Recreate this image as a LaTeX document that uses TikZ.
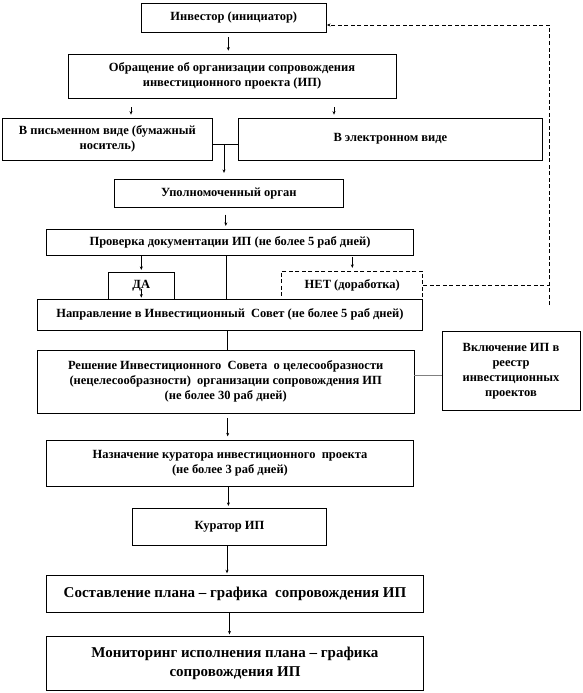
\documentclass[tikz,border=0pt]{standalone}
\usepackage{fontspec}
\setmainfont{Liberation Serif}
\usetikzlibrary{arrows.meta}
\usetikzlibrary{positioning}
\tikzset{>={Stealth[length=3.5pt,width=3pt]}}
\tikzstyle{box} = [draw=black, line width=0.8pt, align=center, inner sep=1pt, font=\fontsize{12.5}{15}\selectfont\bfseries]
\tikzstyle{bigbox} = [box, font=\fontsize{15}{19}\selectfont\bfseries]
\tikzstyle{rework} = [draw=black, line width=0.8pt, dash pattern=on 4pt off 2.5pt]

\begin{document}
\begin{tikzpicture}[x=1pt, y=-1pt, line width=0.8pt]
\useasboundingbox (0,0) rectangle (582,693);
\node [box, minimum width=185.5, minimum height=29] (inv) at (233.8, 17.8) {Инвестор (инициатор)};
\node [box, minimum width=328, minimum height=44.3] (obr) at (232, 76.2) {Обращение об организации сопровождения\\инвестиционного проекта (ИП)};
\node [box, minimum width=210.7, minimum height=41.7] (pis) at (107.4, 139.2) {В письменном виде (бумажный\\носитель)};
\node [box, minimum width=303.2, minimum height=41.7] (el) at (390.4, 139.2) {В электронном виде};
\node [box, minimum width=228.5, minimum height=28] (upo) at (228.8, 193.3) {Уполномоченный орган};
\node [box, minimum width=366.8, minimum height=26.4] (prov) at (230, 242.5) {Проверка документации ИП (не более 5 раб дней)};
\node [box, minimum width=66.6, minimum height=26.7] (da) at (141.3, 285.7) {ДА};
\node [box, rework, minimum width=141.1, minimum height=28] (net) at (352.3, 285) {НЕТ (доработка)};
\node [box, minimum width=385.5, minimum height=31] (napr) at (230, 314.5) {Направление в Инвестиционный\ \ Совет (не более 5 раб дней)};
\node [box, minimum width=376.7, minimum height=63.3] (resh) at (225.7, 381.7) {Решение Инвестиционного\ \ Совета\ \ о целесообразности\\(нецелесообразности)\ \ организации сопровождения ИП\\(не более 30 раб дней)};
\node [box, minimum width=138, minimum height=79.7] (vkl) at (511, 370.9) {Включение ИП в\\реестр\\инвестиционных\\проектов};
\node [box, minimum width=366.8, minimum height=45.3] (naz) at (230, 463.4) {Назначение куратора инвестиционного\ \ проекта\\(не более 3 раб дней)};
\node [box, minimum width=194, minimum height=36.7] (kur) at (229.5, 526.7) {Куратор ИП};
\node [bigbox, minimum width=377, minimum height=36.6] (sost) at (235, 594) {Составление плана -- графика\ \ сопровождения ИП};
\node [bigbox, minimum width=377, minimum height=53.3] (mon) at (235, 663.4) {Мониторинг исполнения плана -- графика\\сопровождения ИП};
\coordinate (jn) at (224, 144.3);
\coordinate (fbend) at (549, 305);
\coordinate (fbtop) at (549, 25);

\draw [->, shorten <=4.4pt, shorten >=3pt] ([xshift=-5.5pt]inv.south) -- ([xshift=-5.5pt]inv.south |- obr.north);
\draw [->, shorten <=8.7pt, shorten >=3.3pt] ([xshift=23.6pt]pis.north |- obr.south) -- ([xshift=23.6pt]pis.north);
\draw [->, shorten <=8.7pt, shorten >=3.3pt] ([xshift=-56.4pt]el.north |- obr.south) -- ([xshift=-56.4pt]el.north);
\draw (pis.east |- jn) -- (el.west |- jn);
\draw [->, shorten >=6pt] (jn) -- (jn |- upo.north);
\draw [->, shorten <=7pt, shorten >=3pt] ([xshift=-3pt]upo.south) -- ([xshift=-3pt]upo.south |- prov.north);
\draw [->, shorten >=2pt] (da.north |- prov.south) -- (da.north);
\draw [->, shorten <=1pt, shorten >=2.7pt] (net.north |- prov.south) -- (net.north);
\draw ([xshift=-3.5pt]prov.south) -- ([xshift=-3.5pt]prov.south |- napr.north);
\draw [->, shorten >=1pt] ([yshift=-3pt]da.center) -- (da.center |- napr.north);
\draw ([xshift=-3pt]napr.south) -- ([xshift=-3pt]napr.south |- resh.north);
\draw [gray] ([yshift=6.7pt]resh.east) -- ([yshift=6.7pt]resh.east -| vkl.west);
\draw [->, shorten <=4.7pt, shorten >=4pt] ([xshift=2pt]resh.south) -- ([xshift=2pt]resh.south |- naz.north);
\draw [->, shorten >=2pt] ([xshift=-1.6pt]naz.south) -- ([xshift=-1.6pt]naz.south |- kur.north);
\draw [->, shorten >=2pt] ([xshift=-2.5pt]kur.south) -- ([xshift=-2.5pt]kur.south |- sost.north);
\draw [->, shorten >=2pt] ([xshift=-5.5pt]sost.south) -- ([xshift=-5.5pt]sost.south |- mon.north);
\draw [rework] (net.east) -- (net.east -| fbend);
\draw [rework, ->] (fbend) -- (fbtop) -- (fbtop -| inv.east);
\end{tikzpicture}
\end{document}
